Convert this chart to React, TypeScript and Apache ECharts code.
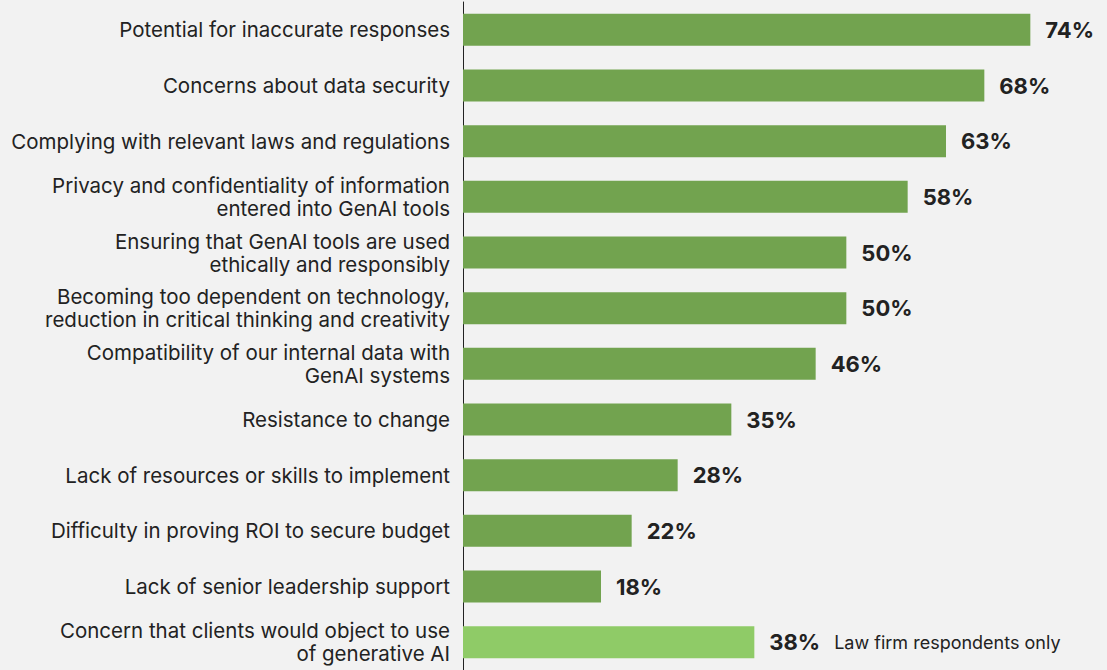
import React, { useEffect, useRef } from "react";
import * as echarts from "echarts";

// Survey concerns, listed top to bottom
const categories: string[] = [
  "Potential for inaccurate responses",
  "Concerns about data security",
  "Complying with relevant laws and regulations",
  "Privacy and confidentiality of information\nentered into GenAI tools",
  "Ensuring that GenAI tools are used\nethically and responsibly",
  "Becoming too dependent on technology,\nreduction in critical thinking and creativity",
  "Compatibility of our internal data with\nGenAI systems",
  "Resistance to change",
  "Lack of resources or skills to implement",
  "Difficulty in proving ROI to secure budget",
  "Lack of senior leadership support",
  "Concern that clients would object to use\nof generative AI",
];

const values: number[] = [74, 68, 63, 58, 50, 50, 46, 35, 28, 22, 18, 38];

// Index of the concern asked only of law firm respondents
const lawFirmOnlyIndex = 11;
const lawFirmNote = "Law firm respondents only";

const BAR_COLOR = "#72a34f";
const LAW_FIRM_COLOR = "#8fcb67";
const TEXT_COLOR = "#222222";
const FONT = "Inter, 'Noto Sans', sans-serif";

export default function App() {
  const ref = useRef<HTMLDivElement>(null);

  useEffect(() => {
    document.body.style.margin = "0";
    if (!ref.current) return;
    const chart = echarts.init(ref.current, undefined, { renderer: "svg" });

    const data = values.map((v, i) => {
      const isLaw = i === lawFirmOnlyIndex;
      return {
        value: v,
        itemStyle: { color: isLaw ? LAW_FIRM_COLOR : BAR_COLOR },
        label: isLaw
          ? {
              formatter: `{v|${v}%}{n|${lawFirmNote}}`,
            }
          : undefined,
      };
    });

    chart.setOption({
      animation: false,
      backgroundColor: "#f2f2f2",
      grid: { left: 463, right: 0, top: 2, height: 669, containLabel: false },
      xAxis: {
        type: "value",
        min: 0,
        max: 84,
        show: false,
      },
      yAxis: {
        type: "category",
        inverse: true,
        data: categories,
        axisLine: { show: true, lineStyle: { color: TEXT_COLOR, width: 1 } },
        axisTick: { show: false },
        axisLabel: {
          color: TEXT_COLOR,
          fontFamily: FONT,
          fontSize: 20.5,
          lineHeight: 23,
          margin: 13,
          align: "right",
        },
      },
      series: [
        {
          type: "bar",
          data,
          barWidth: 32,
          label: {
            show: true,
            position: "right",
            distance: 15,
            color: TEXT_COLOR,
            fontFamily: FONT,
            fontSize: 22,
            fontWeight: "bold",
            formatter: "{c}%",
            rich: {
              v: {
                color: TEXT_COLOR,
                fontFamily: FONT,
                fontSize: 22,
                fontWeight: "bold",
                padding: [0, 14, 0, 0],
              },
              n: {
                color: TEXT_COLOR,
                fontFamily: FONT,
                fontSize: 18,
                fontWeight: "normal",
              },
            },
          },
        },
      ],
    });

    return () => chart.dispose();
  }, []);

  return <div ref={ref} style={{ width: 1107, height: 670 }} />;
}
